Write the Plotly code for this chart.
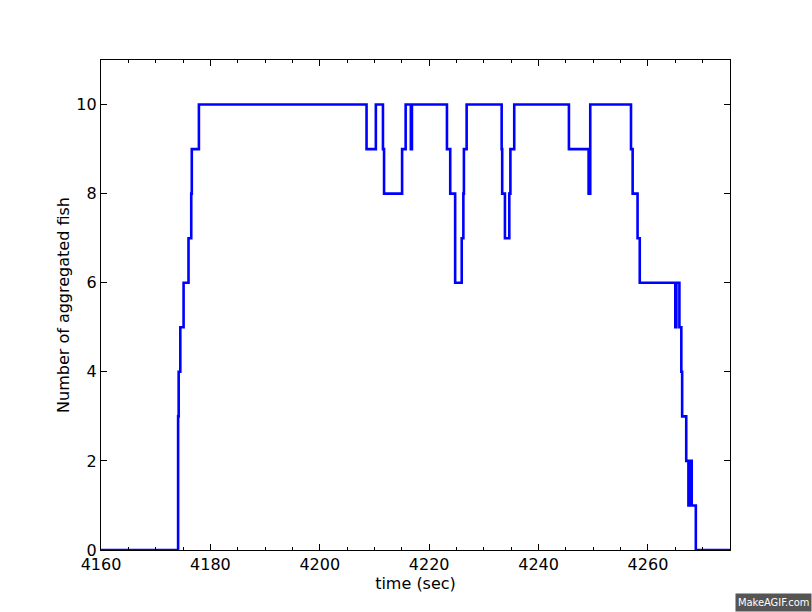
import plotly.graph_objects as go

# Step-function data: time (sec) where the count changes, and the new count
times = [4160.0, 4174.1, 4174.2, 4174.5, 4175.1, 4176.0, 4176.5, 4176.6, 4177.9,
         4208.55, 4210.25, 4211.55, 4211.75, 4215.05, 4215.7, 4216.65, 4216.85,
         4223.25, 4223.85, 4224.75, 4225.95, 4226.25, 4226.35, 4226.85,
         4233.25, 4233.35, 4233.85, 4234.65, 4234.85, 4235.55,
         4245.55, 4249.15, 4249.45, 4256.9, 4257.2, 4258.1, 4258.5,
         4265.0, 4265.2, 4265.75, 4266.1, 4266.25, 4267.0,
         4267.4, 4267.55, 4267.7, 4267.85, 4268.0, 4268.75, 4275.0]
counts = [0, 3, 4, 5, 6, 7, 8, 9, 10,
          9, 10, 9, 8, 9, 10, 9, 10,
          9, 8, 6, 7, 8, 9, 10,
          9, 8, 7, 8, 9, 10,
          9, 8, 10, 9, 8, 7, 6,
          5, 6, 5, 4, 3, 2,
          1, 2, 1, 2, 1, 0, 0]

x_ticks = [4160, 4180, 4200, 4220, 4240, 4260]
y_ticks = [0, 2, 4, 6, 8, 10]

fig = go.Figure()
fig.add_trace(go.Scatter(x=times, y=counts, mode="lines", line_shape="hv",
                         line=dict(color="#0000ff", width=2.6), showlegend=False))

font = dict(family="DejaVu Sans", size=16, color="black")
fig.update_layout(
    width=812, height=612,
    margin=dict(l=101, r=82, t=60, b=62),
    paper_bgcolor="white", plot_bgcolor="white",
    font=font,
    xaxis=dict(range=[4160, 4275], tickvals=x_ticks, ticktext=[str(v) for v in x_ticks],
               ticks="inside", ticklen=6, tickcolor="black", showline=True, linecolor="black",
               linewidth=1.3, mirror="ticks", showgrid=False, zeroline=False,
               minor=dict(dtick=5, tick0=4160, ticks="inside", ticklen=3, tickcolor="black", showgrid=False),
               title=dict(text="time (sec)", font=font, standoff=2),
               tickfont=font),
    yaxis=dict(range=[0, 11], tickvals=y_ticks, ticktext=[str(v) for v in y_ticks],
               ticks="inside", ticklen=6, tickcolor="black", showline=True, linecolor="black",
               linewidth=1.3, mirror="ticks", showgrid=False, zeroline=False,
               title=dict(text="Number of aggregated fish", font=font, standoff=2),
               tickfont=font),
)

fig.add_annotation(text="MakeAGIF.com", xref="paper", yref="paper",
                   x=(812 - 101) / 629, y=-(612 - 550) / 490,
                   xanchor="right", yanchor="bottom", showarrow=False,
                   bgcolor="#555555", font=dict(family="DejaVu Sans Condensed", size=11, color="white"),
                   borderpad=2)

fig.write_html("out.html", config={"displayModeBar": False},
               post_script="document.body.style.margin='0';document.body.style.overflow='hidden';")
